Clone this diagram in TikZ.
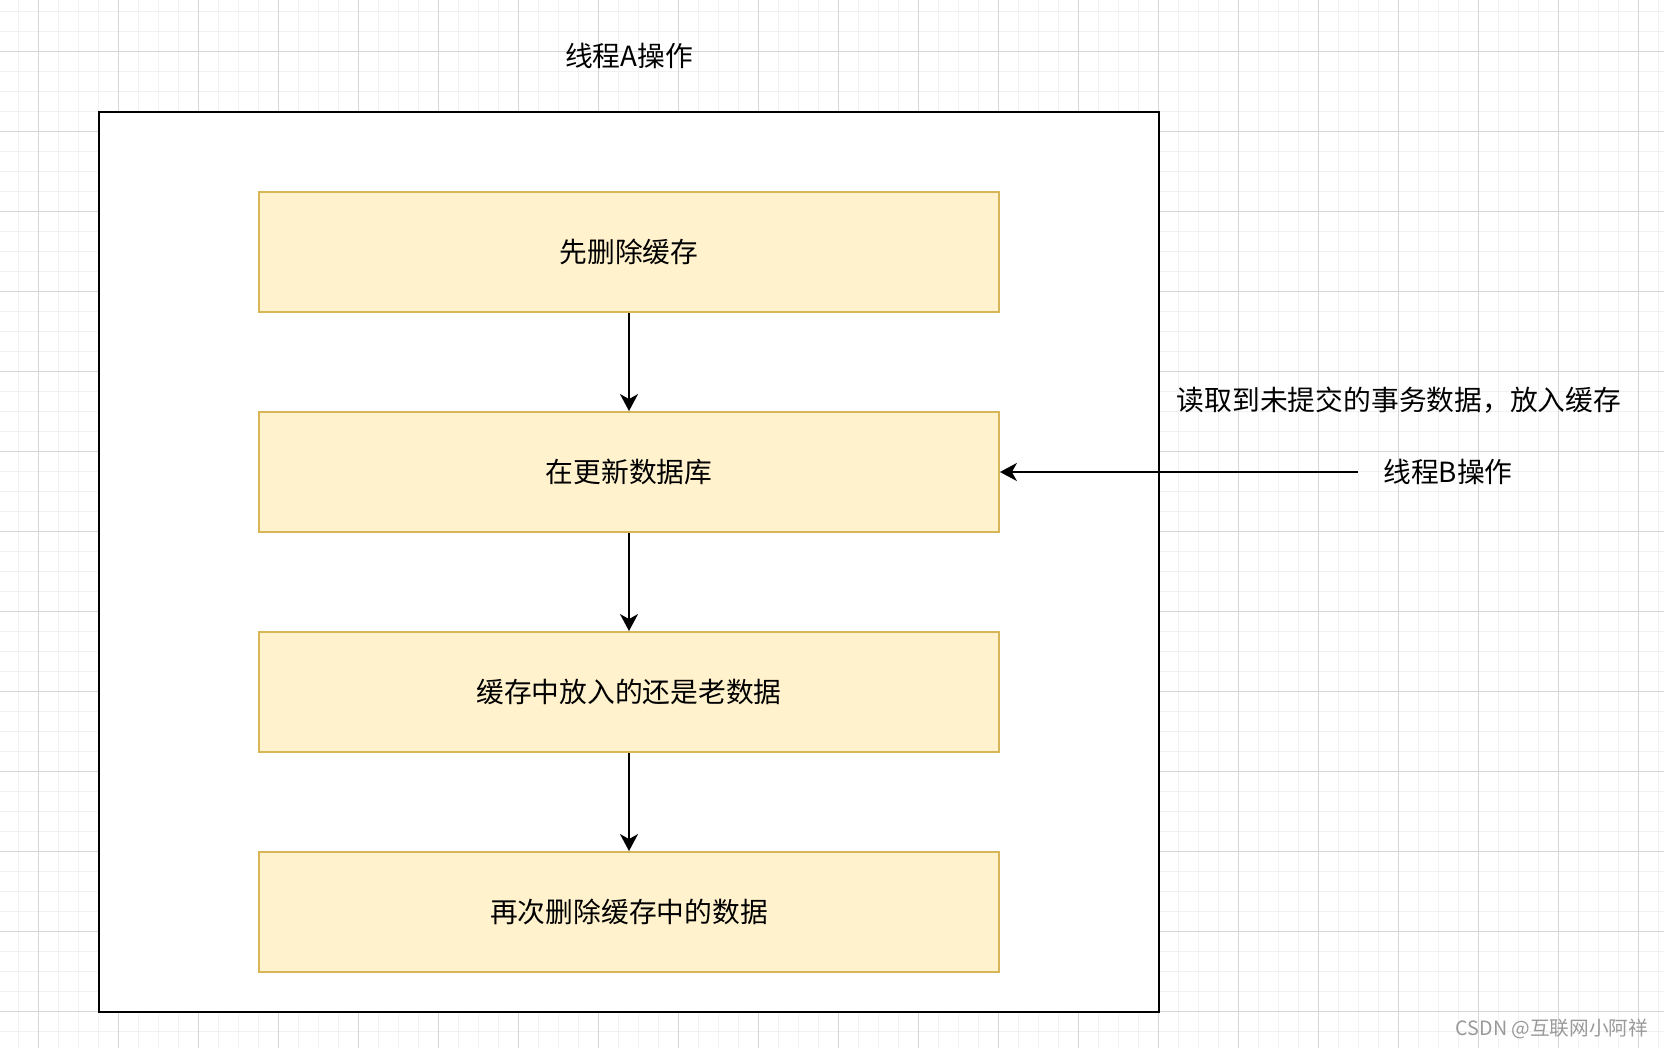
\documentclass[tikz,border=0pt]{standalone}
\usepackage{fontspec}
\setmainfont{Noto Sans CJK SC}
\usepackage{tikz}
\usetikzlibrary{arrows.meta}
\definecolor{notefill}{HTML}{FFF2CC}
\definecolor{notedraw}{HTML}{D6B656}
\definecolor{gridminor}{HTML}{F1F1F1}
\definecolor{gridmajor}{HTML}{D6D6D6}
\definecolor{marktext}{HTML}{9A9A9A}
\newcommand{\cjksize}{\fontsize{15.8}{19}\selectfont}
\tikzset{>={Stealth[length=3.4mm, width=3.6mm, inset=1mm]}}
\tikzset{
  stepbox/.style={draw=notedraw, fill=notefill, line width=1.1pt,
    minimum width=14.8cm, minimum height=2.4cm, inner sep=0pt, font=\cjksize},
  threadbox/.style={draw=black, fill=white, line width=1.1pt,
    minimum width=21.2cm, minimum height=18cm, inner sep=0pt},
  label/.style={inner sep=0pt, font=\cjksize},
  flow/.style={->, line width=1.1pt},
  minorline/.style={gridminor, line width=0.6pt},
  majorline/.style={gridmajor, line width=0.6pt}
}

\begin{document}
\begin{tikzpicture}[x=0.02cm, y=-0.02cm]
    \useasboundingbox (0,0) rectangle (1664,1048);
    \fill[white] (0,0) rectangle (1664,1048);

    % background grid
    \foreach \i in {0,...,82}
        \draw[minorline] ({18.3+20*\i},0) -- ++(0,1048);
    \foreach \i in {0,...,51}
        \draw[minorline] (0,{11.7+20*\i}) -- ++(1664,0);
    \foreach \i in {0,...,20}
        \draw[majorline] ({38.3+80*\i},0) -- ++(0,1048);
    \foreach \i in {0,...,12}
        \draw[majorline] (0,{51.7+80*\i}) -- ++(1664,0);

    % thread A
    \node[threadbox] (frameA) at (629,562) {};
    \node[label] (titleA) at (629,56) {线程A操作};

    \node[stepbox] (s1) at (629,252) {先删除缓存};
    \node[stepbox] (s2) at (629,472) {在更新数据库};
    \node[stepbox] (s3) at (629,692) {缓存中放入的还是老数据};
    \node[stepbox] (s4) at (629,912) {再次删除缓存中的数据};

    \draw[flow] (s1) -- (s2);
    \draw[flow] (s2) -- (s3);
    \draw[flow] (s3) -- (s4);

    % thread B
    \node[label, minimum width=3.6cm, minimum height=1cm] (threadB) at (1448,472) {线程B操作};
    \node[label] (readB) at (1399,400) {读取到未提交的事务数据，放入缓存};
    \draw[flow] (threadB.west) -- (s2.east);

    \node[inner sep=0pt, text=marktext, font=\fontsize{11.2}{13}\selectfont] (mark) at (1552,1029) {CSDN @互联网小阿祥};
\end{tikzpicture}
\end{document}
